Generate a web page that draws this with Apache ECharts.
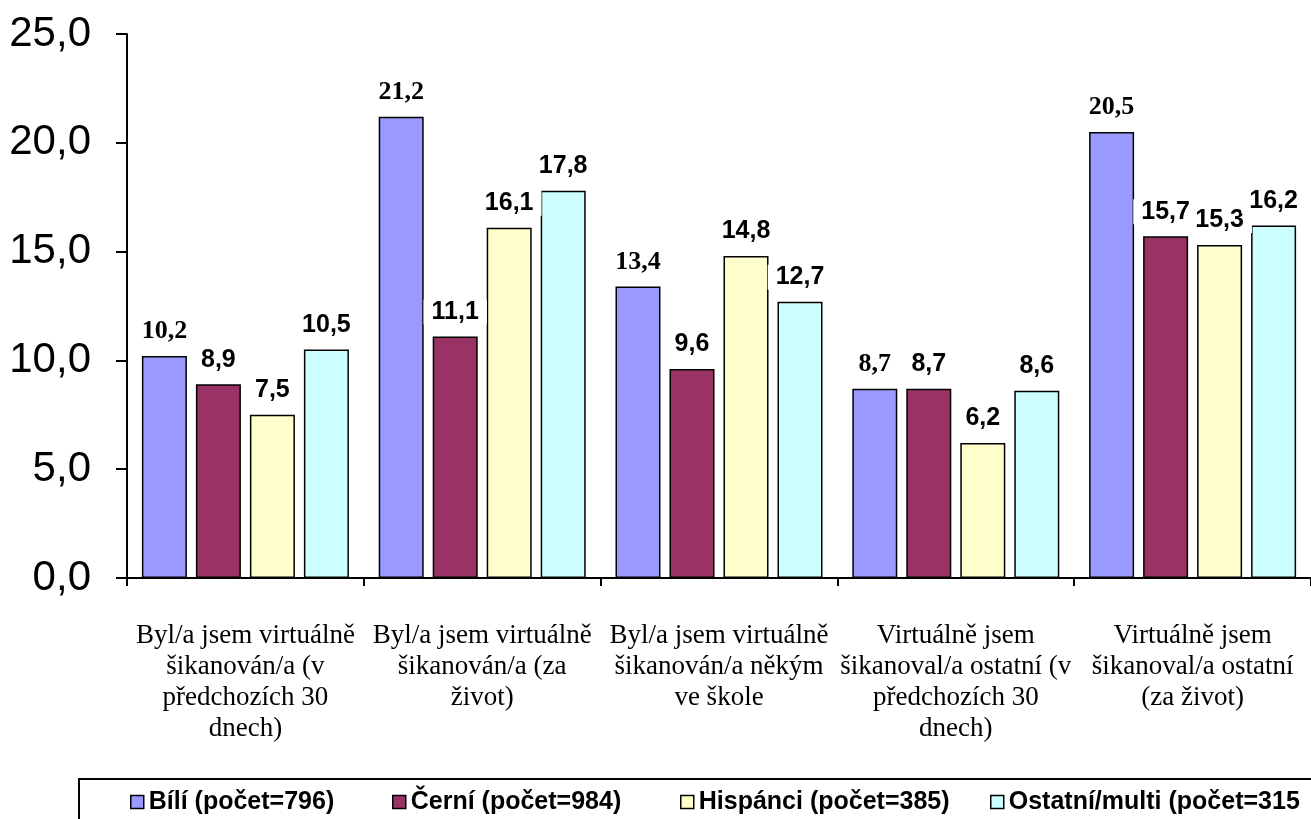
<!DOCTYPE html>
<html>
<head>
<meta charset="utf-8">
<script src="https://cdn.jsdelivr.net/npm/echarts@6/dist/echarts.min.js"></script>
<style>
  html, body { margin: 0; padding: 0; background: #fff; }
  #chart { width: 1311px; height: 819px; }
</style>
</head>
<body>
<div id="chart"></div>
<script>
const categories = [
  'Byl/a jsem virtuálně\nšikanován/a (v\npředchozích 30\ndnech)',
  'Byl/a jsem virtuálně\nšikanován/a (za\nživot)',
  'Byl/a jsem virtuálně\nšikanován/a někým\nve škole',
  'Virtuálně jsem\nšikanoval/a ostatní (v\npředchozích 30\ndnech)',
  'Virtuálně jsem\nšikanoval/a ostatní\n(za život)'
]
const seriesNames = ['Bílí (počet=796)', 'Černí (počet=984)', 'Hispánci (počet=385)', 'Ostatní/multi (počet=315']
const bili = [10.2, 21.2, 13.4, 8.7, 20.5]
const cerni = [8.9, 11.1, 9.6, 8.7, 15.7]
const hispanci = [7.5, 16.1, 14.8, 6.2, 15.3]
const ostatni = [10.5, 17.8, 12.7, 8.6, 16.2]
const yTicks = [0, 5, 10, 15, 20, 25]

const colors = ['#9999ff', '#993366', '#ffffcc', '#ccffff']
const legendLeft = [130, 392, 680, 990]

const fmt = v => v.toFixed(1).replace('.', ',')

const chart = echarts.init(document.getElementById('chart'))

function makeSeries(name, values, index) {
  const serif = index === 0
  return {
    name: name,
    type: 'bar',
    data: values,
    barWidth: 45,
    barGap: '20%',
    itemStyle: {
      color: colors[index],
      borderColor: '#000',
      borderWidth: 1.5
    },
    label: {
      show: true,
      position: 'top',
      distance: 12,
      formatter: p => fmt(p.value),
      fontFamily: serif ? '"Liberation Serif", "Times New Roman", serif' : '"Liberation Sans", Arial, sans-serif',
      fontWeight: 'bold',
      fontSize: serif ? 26 : 25,
      lineHeight: 25,
      color: '#000',
      backgroundColor: '#fff',
      padding: [0, 8]
    }
  }
}

const option = {
  animation: false,
  backgroundColor: '#fff',
  grid: {
    left: 127,
    right: -4,
    top: 34,
    bottom: 241
  },
  xAxis: {
    type: 'category',
    data: categories,
    axisLine: { lineStyle: { color: '#000', width: 2 } },
    axisTick: { show: true, length: 8, lineStyle: { color: '#000', width: 2 } },
    axisLabel: {
      interval: 0,
      margin: 42,
      fontFamily: '"Liberation Serif", "Times New Roman", serif',
      fontSize: 27,
      lineHeight: 31,
      color: '#000',
      align: 'center'
    }
  },
  yAxis: {
    type: 'value',
    min: yTicks[0],
    max: yTicks[yTicks.length - 1],
    interval: 5,
    splitLine: { show: false },
    axisLine: { show: true, lineStyle: { color: '#000', width: 2 } },
    axisTick: { show: true, length: 11, lineStyle: { color: '#000', width: 2 } },
    axisLabel: {
      margin: 36,
      formatter: v => fmt(v),
      fontFamily: '"Liberation Sans", Arial, sans-serif',
      fontSize: 42,
      color: '#000'
    }
  },
  legend: seriesNames.map((n, i) => ({
    data: [n],
    left: legendLeft[i],
    top: 788,
    padding: 0,
    itemWidth: 13,
    itemHeight: 13,
    icon: 'rect',
    selectedMode: false,
    itemStyle: { borderColor: '#000', borderWidth: 1.5 },
    textStyle: {
      fontFamily: '"Liberation Sans", Arial, sans-serif',
      fontWeight: 'bold',
      fontSize: 25,
      lineHeight: 28,
      color: '#000'
    }
  })),
  graphic: [{
    type: 'rect',
    z: -1,
    shape: { x: 79, y: 779, width: 1260, height: 60 },
    style: { fill: 'none', stroke: '#000', lineWidth: 2 }
  }],
  series: [
    makeSeries(seriesNames[0], bili, 0),
    makeSeries(seriesNames[1], cerni, 1),
    makeSeries(seriesNames[2], hispanci, 2),
    makeSeries(seriesNames[3], ostatni, 3)
  ]
}

chart.setOption(option)
</script>
</body>
</html>
